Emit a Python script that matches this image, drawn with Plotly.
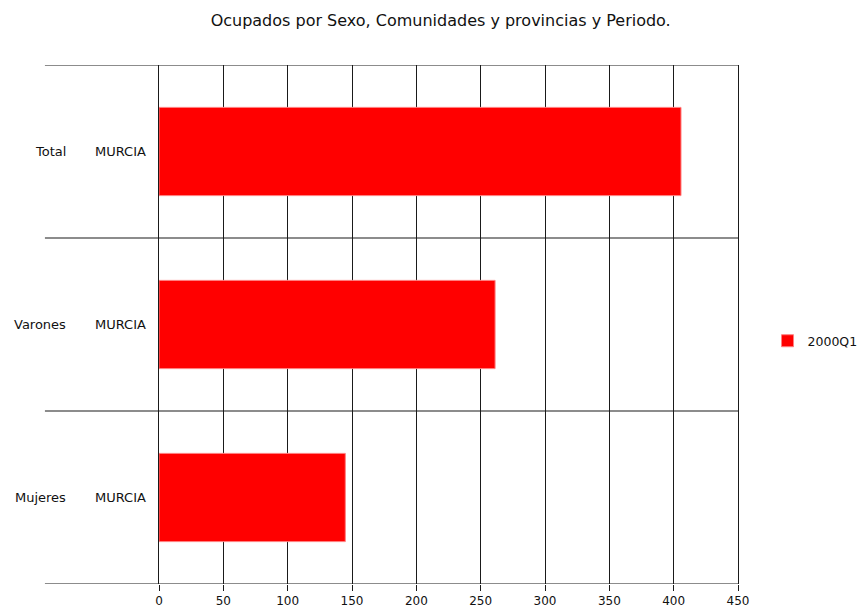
import plotly.graph_objects as go

sexo = ["Total", "Varones", "Mujeres"]
provincia = ["MURCIA", "MURCIA", "MURCIA"]
ocupados_2000q1 = [405.7, 261.2, 144.8]
x_ticks = [0, 50, 100, 150, 200, 250, 300, 350, 400, 450]

font = "DejaVu Sans, Verdana, sans-serif"
line_color = "#1a1a1a"
text_color = "#111"

fig = go.Figure()
fig.add_trace(
    go.Bar(
        x=ocupados_2000q1,
        y=sexo,
        orientation="h",
        name="2000Q1",
        marker=dict(color="#ff0000", line=dict(color="#ff8080", width=1)),
    )
)

# row separators, extended left under the label columns
for b in [-0.5, 0.5, 1.5, 2.5]:
    fig.add_shape(
        type="line",
        xref="paper",
        yref="y",
        x0=-0.197,
        x1=1,
        y0=b,
        y1=b,
        line=dict(color=line_color, width=1.2),
    )

# two label columns: sex and province
for s, p in zip(sexo, provincia):
    fig.add_annotation(
        x=-0.157, y=s, xref="paper", yref="y", text=s, showarrow=False,
        xanchor="right", font=dict(family=font, size=13, color=text_color),
    )
    fig.add_annotation(
        x=-0.019, y=s, xref="paper", yref="y", text=p, showarrow=False,
        xanchor="right", font=dict(family=font, size=13, color=text_color),
    )

fig.update_layout(
    width=859,
    height=615,
    autosize=False,
    margin=dict(l=159, r=121, t=65, b=31, autoexpand=False),
    paper_bgcolor="white",
    plot_bgcolor="white",
    bargap=0.49,
    title=dict(
        text="Ocupados por Sexo, Comunidades y provincias y Periodo.",
        x=0.513,
        xanchor="center",
        y=0.9675,
        yanchor="middle",
        font=dict(family=font, size=16, color=text_color),
    ),
    showlegend=True,
    legend=dict(
        x=1.051,
        y=0.468,
        xanchor="left",
        yanchor="middle",
        font=dict(family=font, size=12.5, color=text_color),
        bgcolor="rgba(0,0,0,0)",
    ),
)
fig.update_xaxes(
    range=[0, 450],
    tickvals=x_ticks,
    showgrid=True,
    gridcolor=line_color,
    gridwidth=1.2,
    zeroline=False,
    ticks="outside",
    ticklen=6,
    tickcolor=line_color,
    tickfont=dict(family=font, size=12, color=text_color),
    showline=False,
)
fig.update_yaxes(
    categoryorder="array",
    categoryarray=sexo[::-1],
    range=[-0.5, 2.5],
    showticklabels=False,
    showgrid=False,
    zeroline=False,
    showline=True,
    mirror=True,
    linecolor=line_color,
    linewidth=1.2,
)

# drop the default page margin so the 859x615 figure fills the window
fig.write_html(
    "out.html",
    config={"displayModeBar": False},
    post_script="document.body.style.margin = '0';",
)
